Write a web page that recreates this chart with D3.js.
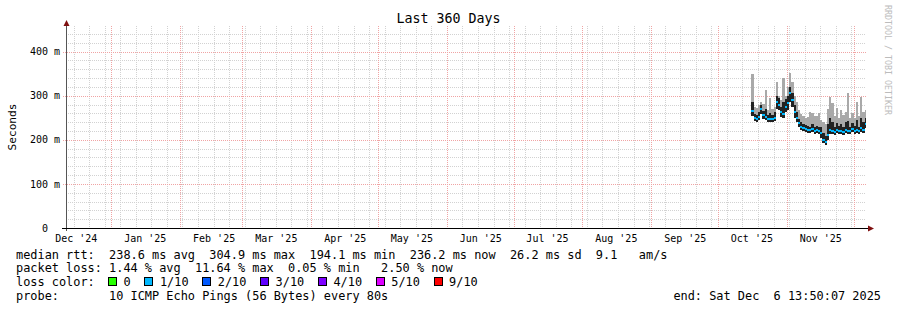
<!DOCTYPE html>
<html>
<head>
<meta charset="utf-8">
<script src="https://cdn.jsdelivr.net/npm/d3@7"></script>
<style>
  body { margin: 0; background: #fff; }
  text { font-family: "DejaVu Sans Mono", monospace; white-space: pre; }
</style>
</head>
<body>
<svg id="chart" width="897" height="310"></svg>
<script>
// daily consolidated smokeping values (ms), first column = firstDay
var firstDay = "2025-10-16";
var rttMedian = [265, 249, 248, 252, 270, 256, 252, 247, 248, 247, 250, 286, 280, 262, 258, 275, 283, 305, 290, 262,
  250, 238, 230, 227, 225, 223, 222, 224, 221, 222, 220, 215, 200, 194, 210, 222, 220, 218, 222, 219,
  221, 218, 223, 220, 219, 224, 220, 222, 219, 226, 222, 236];
var rttLow = [255, 242, 241, 245, 258, 248, 245, 240, 241, 240, 243, 270, 268, 252, 249, 262, 268, 285, 275, 250,
  240, 230, 223, 220, 218, 216, 215, 217, 214, 215, 213, 205, 192, 189, 200, 214, 213, 211, 215, 212,
  214, 211, 216, 213, 212, 217, 213, 215, 212, 218, 215, 226];
var rttDark = [285, 258, 256, 262, 280, 265, 270, 256, 260, 256, 262, 300, 295, 275, 285, 292, 300, 320, 305, 280,
  262, 248, 240, 236, 233, 232, 230, 236, 230, 232, 230, 228, 215, 208, 235, 250, 240, 230, 238, 232,
  236, 230, 240, 242, 230, 238, 232, 245, 230, 250, 240, 250];
var rttHigh = [350, 275, 272, 280, 285, 282, 313, 268, 294, 270, 275, 332, 300, 290, 340, 300, 320, 351, 330, 300,
  285, 268, 258, 255, 250, 252, 262, 260, 255, 255, 260, 245, 240, 235, 270, 298, 283, 255, 271, 250,
  268, 256, 262, 305, 250, 260, 250, 286, 255, 298, 262, 268];

var yTicks = [0, 100, 200, 300, 400];
var lossLabels = ["0", "1/10", "2/10", "3/10", "4/10", "5/10", "9/10"];
var lossColors = ["#26ff00", "#00b8ff", "#0059ff", "#5e00ff", "#7e00ff", "#dd00ff", "#ff0000"];
var medianColor = lossColors[1];

var legendRtt = "median rtt:  238.6 ms avg  304.9 ms max  194.1 ms min  236.2 ms now  26.2 ms sd  9.1   am/s";
var legendLoss = "packet loss: 1.44 % avg  11.64 % max  0.05 % min   2.50 % now";
var legendProbe = "probe:       10 ICMP Echo Pings (56 Bytes) every 80s";
var endText = "end: Sat Dec  6 13:50:07 2025";

var endTime = new Date(Date.UTC(2025, 11, 6, 13, 50, 7));
var startTime = d3.utcDay.offset(endTime, -360);

var plot = { left: 66, right: 866, top: 26, bottom: 228 };

var svg = d3.select("#chart");

var x = d3.scaleUtc().domain([startTime, endTime]).range([plot.left, plot.right]);
var y = d3.scaleLinear().domain([0, 458]).range([plot.bottom, plot.top]);

// grid
var grid = svg.append("g").attr("shape-rendering", "crispEdges");

var minorY = d3.range(20, 458, 20).filter((d) => d % 100 !== 0);
grid.selectAll(".hminor")
  .data(minorY)
  .enter()
  .append("line")
  .attr("x1", plot.left)
  .attr("x2", plot.right)
  .attr("y1", (d) => Math.round(y(d)) + 0.5)
  .attr("y2", (d) => Math.round(y(d)) + 0.5)
  .attr("stroke", "#d2d2d2")
  .attr("stroke-dasharray", "1,1");

grid.selectAll(".vminor")
  .data(d3.utcSunday.range(startTime, endTime))
  .enter()
  .append("line")
  .attr("x1", (d) => Math.round(x(d)) + 0.5)
  .attr("x2", (d) => Math.round(x(d)) + 0.5)
  .attr("y1", plot.top)
  .attr("y2", plot.bottom)
  .attr("stroke", "#d2d2d2")
  .attr("stroke-dasharray", "1,1");

grid.selectAll(".hmajor")
  .data(yTicks.filter((d) => d > 0))
  .enter()
  .append("line")
  .attr("x1", plot.left - 3)
  .attr("x2", plot.right)
  .attr("y1", (d) => Math.round(y(d)) + 0.5)
  .attr("y2", (d) => Math.round(y(d)) + 0.5)
  .attr("stroke", "#f0a4a4")
  .attr("stroke-dasharray", "1,1");

grid.selectAll(".vmajor")
  .data(d3.utcMonth.range(startTime, endTime))
  .enter()
  .append("line")
  .attr("x1", (d) => Math.round(x(d)) + 0.5)
  .attr("x2", (d) => Math.round(x(d)) + 0.5)
  .attr("y1", plot.top)
  .attr("y2", plot.bottom)
  .attr("stroke", "#f0a4a4")
  .attr("stroke-dasharray", "1,1");

// smoke + median
var t0 = d3.utcParse("%Y-%m-%d")(firstDay);
var days = rttMedian.map((d, i) => ({
  t: d3.utcDay.offset(t0, i),
  t1: d3.min([d3.utcDay.offset(t0, i + 1), endTime]),
  med: d,
  lo: rttLow[i],
  dark: rttDark[i],
  hi: rttHigh[i],
}));

var smoke = svg.append("g").attr("shape-rendering", "crispEdges");

smoke.selectAll(".hi")
  .data(days)
  .enter()
  .append("rect")
  .attr("x", (d) => x(d.t))
  .attr("width", (d) => x(d.t1) - x(d.t))
  .attr("y", (d) => y(d.hi))
  .attr("height", (d) => y(d.lo) - y(d.hi))
  .attr("fill", "#a9a9a9");

smoke.selectAll(".dark")
  .data(days)
  .enter()
  .append("rect")
  .attr("x", (d) => x(d.t))
  .attr("width", (d) => x(d.t1) - x(d.t))
  .attr("y", (d) => y(d.dark))
  .attr("height", (d) => y(d.lo) - y(d.dark))
  .attr("fill", "#222");

smoke.selectAll(".med")
  .data(days)
  .enter()
  .append("rect")
  .attr("x", (d) => x(d.t))
  .attr("width", (d) => x(d.t1) - x(d.t))
  .attr("y", (d) => y(d.med) - 1)
  .attr("height", 2)
  .attr("fill", medianColor);

// axes
var yAxis = d3.axisLeft(y)
  .tickValues(yTicks)
  .tickSize(0)
  .tickPadding(6)
  .tickFormat((d) => (d === 0 ? "0  " : d + " m"));

svg.append("g")
  .attr("transform", `translate(${plot.left}, 0)`)
  .call(yAxis)
  .call((g) => g.select(".domain").remove())
  .selectAll("text")
  .attr("font-family", "DejaVu Sans Mono")
  .attr("font-size", 10)
  .attr("fill", "#000");

var labelDays = d3.utcMonth.range(d3.utcMonth.floor(startTime), endTime)
  .map((d) => d3.utcDay.offset(d, 15))
  .filter((d) => d < endTime);

var xAxis = d3.axisBottom(x)
  .tickValues(labelDays)
  .tickSize(0)
  .tickPadding(6.5)
  .tickFormat(d3.utcFormat("%b '%y"));

svg.append("g")
  .attr("transform", `translate(0, ${plot.bottom})`)
  .call(xAxis)
  .call((g) => g.select(".domain").remove())
  .selectAll("text")
  .attr("font-family", "DejaVu Sans Mono")
  .attr("font-size", 10)
  .attr("fill", "#000");

// axis lines + arrows
svg.append("line")
  .attr("x1", plot.left + 0.5).attr("x2", plot.left + 0.5)
  .attr("y1", plot.bottom + 3).attr("y2", plot.top - 4)
  .attr("stroke", "#555")
  .attr("shape-rendering", "crispEdges");
svg.append("line")
  .attr("x1", plot.left - 4).attr("x2", plot.right + 3)
  .attr("y1", plot.bottom + 0.5).attr("y2", plot.bottom + 0.5)
  .attr("stroke", "#000")
  .attr("shape-rendering", "crispEdges");
svg.append("path")
  .attr("d", `M${plot.left - 2.5},${plot.top} L${plot.left + 3.5},${plot.top} L${plot.left + 0.5},${plot.top - 6} Z`)
  .attr("fill", "#7f1010");
svg.append("path")
  .attr("d", `M${plot.right + 2},${plot.bottom - 2.5} L${plot.right + 2},${plot.bottom + 3.5} L${plot.right + 8},${plot.bottom + 0.5} Z`)
  .attr("fill", "#7f1010");

// titles
svg.append("text")
  .attr("x", 448.5)
  .attr("y", 23)
  .attr("text-anchor", "middle")
  .attr("font-size", 13.3)
  .text("Last 360 Days");

svg.append("text")
  .attr("transform", `translate(15.5, ${(plot.top + plot.bottom) / 2}) rotate(-90)`)
  .attr("text-anchor", "middle")
  .attr("font-size", 11.2)
  .text("Seconds");

svg.append("text")
  .attr("transform", "translate(884.5, 5) rotate(90)")
  .attr("font-size", 8.3)
  .attr("fill", "#bcbcbc")
  .text("RRDTOOL / TOBI OETIKER");

// legend
var fs = 11.9;
var cw = 7.14;
var legend = svg.append("g").attr("font-size", fs).attr("fill", "#000");
legend.append("text").attr("x", 16).attr("y", 258.5).text(legendRtt);
legend.append("text").attr("x", 16).attr("y", 272.3).text(legendLoss);
legend.append("text").attr("x", 16).attr("y", 286.2).text("loss color:");
legend.append("text").attr("x", 16).attr("y", 300).text(legendProbe);
legend.append("text").attr("x", 881).attr("y", 300).attr("text-anchor", "end").text(endText);

var lx = 108;
lossLabels.forEach((lab, i) => {
  legend.append("rect")
    .attr("x", lx + 0.5)
    .attr("y", 277.5)
    .attr("width", 8)
    .attr("height", 8)
    .attr("fill", lossColors[i])
    .attr("stroke", "#000")
    .attr("shape-rendering", "crispEdges");
  legend.append("text").attr("x", lx + 15.5).attr("y", 286.2).text(lab);
  lx += 15 + lab.length * cw + 2 * cw;
});
</script>
</body>
</html>
